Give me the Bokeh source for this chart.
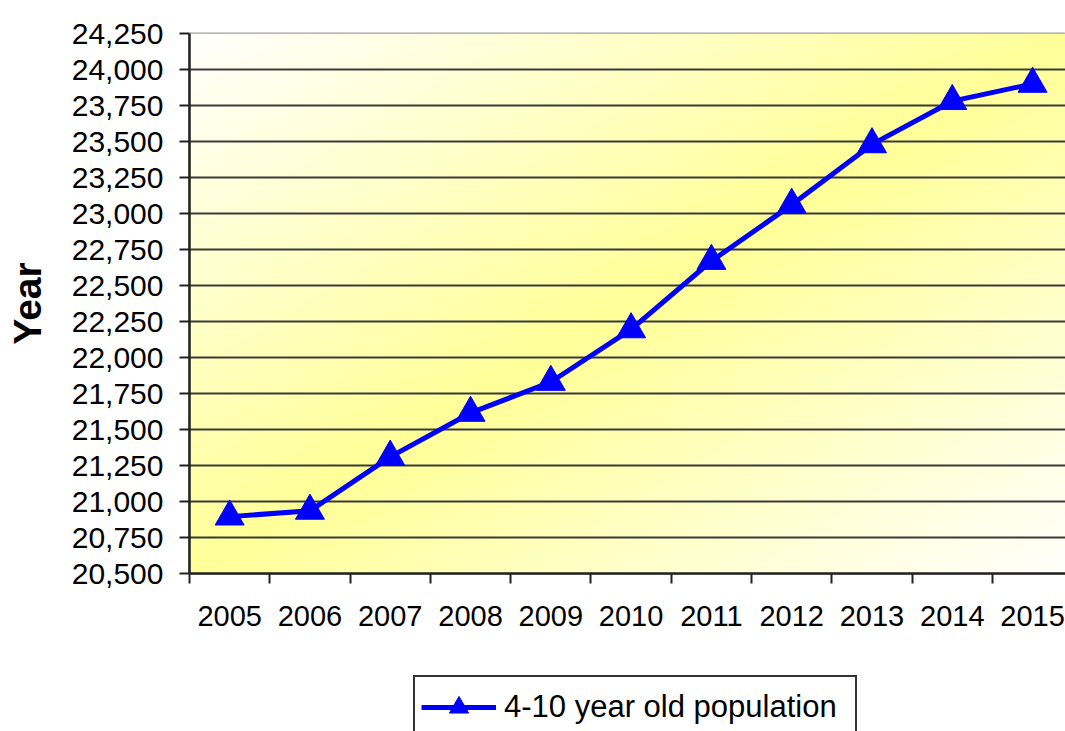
import numpy as np
from bokeh.plotting import figure
from bokeh.layouts import column
from bokeh.models import Range1d, FixedTicker, NumeralTickFormatter, Legend, LegendItem
from bokeh.embed import file_html
from bokeh.resources import INLINE

# ---- data ----
years = ["2005", "2006", "2007", "2008", "2009", "2010", "2011", "2012", "2013", "2014", "2015"]
population = [20895, 20935, 21310, 21615, 21830, 22195, 22670, 23060, 23480, 23780, 23900]
y_ticks = [20500, 20750, 21000, 21250, 21500, 21750, 22000, 22250, 22500, 22750,
           23000, 23250, 23500, 23750, 24000, 24250]
series_label = "4-10 year old population"
axis_title = "Year"

FONT = "Liberation Sans"
BLUE = "#0000FF"
n = len(years)
Y_MIN, Y_MAX = y_ticks[0], y_ticks[-1]
xs = [i + 0.5 for i in range(n)]
VISIBLE = 10.91  # part of the category axis that fits in the window

p = figure(width=1065, height=650, output_backend="svg", toolbar_location=None,
           x_range=Range1d(0, VISIBLE), y_range=Range1d(Y_MIN, Y_MAX),
           min_border_left=189, min_border_right=0, min_border_top=33,
           min_border_bottom=77)
p.background_fill_color = "white"
p.border_fill_color = "white"
p.outline_line_color = "#a0a0a0"
p.outline_line_width = 2

# ---- diagonal gradient background (white -> yellow -> white) ----
nx, ny = 300, 200
u = np.linspace(0, 1, nx)[None, :]
v = 1 - np.linspace(0, 1, ny)[:, None]
t = (u + v) / 2
d = np.abs(2 * t - 1)
blue = (153 + 100 * d).astype(np.uint8)
img = np.empty((ny, nx), dtype=np.uint32)
view = img.view(dtype=np.uint8).reshape((ny, nx, 4))
view[:, :, 0] = 255
view[:, :, 1] = 255
view[:, :, 2] = blue
view[:, :, 3] = 255
p.image_rgba(image=[img], x=0, y=Y_MIN, dw=n, dh=Y_MAX - Y_MIN, level="image")

# ---- grid ----
p.xgrid.visible = False
p.ygrid.ticker = FixedTicker(ticks=y_ticks[1:-1])
p.ygrid.grid_line_color = "#3a3a3a"
p.ygrid.grid_line_width = 2
p.ygrid.level = "underlay"

# ---- series ----
p.line(xs, population, line_color=BLUE, line_width=5)
p.scatter(xs, population, marker="triangle", size=29, fill_color=BLUE, line_color=BLUE)

# ---- y axis ----
ya = p.yaxis[0]
ya.ticker = FixedTicker(ticks=y_ticks)
ya.formatter = NumeralTickFormatter(format="0,0")
ya.major_tick_out = 10
ya.major_tick_in = 0
ya.minor_tick_out = 0
ya.minor_tick_in = 0
ya.major_tick_line_color = "#222222"
ya.major_tick_line_width = 2
ya.axis_line_color = "#222222"
ya.axis_line_width = 2.5
ya.major_label_text_font = FONT
ya.major_label_text_font_size = "30px"
ya.major_label_text_color = "black"
ya.major_label_standoff = 16
ya.axis_label = axis_title
ya.axis_label_text_font = FONT
ya.axis_label_text_font_style = "bold"
ya.axis_label_text_font_size = "39px"
ya.axis_label_text_color = "black"
ya.axis_label_standoff = 20

# ---- x axis ----
xa = p.xaxis[0]
xa.ticker = FixedTicker(ticks=xs, minor_ticks=list(range(n + 1)))
xa.major_label_overrides = {x: yr for x, yr in zip(xs, years)}
xa.major_tick_out = 0
xa.major_tick_in = 0
xa.minor_tick_out = 10
xa.minor_tick_in = 0
xa.minor_tick_line_color = "#222222"
xa.minor_tick_line_width = 2
xa.axis_line_color = "#222222"
xa.axis_line_width = 2.5
xa.major_label_text_font = FONT
xa.major_label_text_font_size = "29px"
xa.major_label_text_color = "black"
xa.major_label_standoff = 22

# ---- legend strip below the chart (its frame is aligned with the chart frame) ----
q = figure(width=1065, height=81, output_backend="svg", toolbar_location=None,
           x_axis_type=None, y_axis_type=None,
           x_range=Range1d(0, 1), y_range=Range1d(0, 1),
           min_border_left=0, min_border_right=0, min_border_top=0, min_border_bottom=0)
q.outline_line_color = None
q.background_fill_color = "white"
q.border_fill_color = "white"
q.xgrid.visible = False
q.ygrid.visible = False
# same series, drawn outside this strip's visible range; used only for the legend swatch
lg_line = q.line(xs, population, line_color=BLUE, line_width=5)
lg_mark = q.scatter(xs, population, marker="triangle", size=29,
                    fill_color=BLUE, line_color=BLUE)

legend = Legend(items=[LegendItem(label=series_label, renderers=[lg_line, lg_mark])],
                location=(224, -8), glyph_width=75, glyph_height=48,
                label_height=48, label_width=345, padding=6, label_standoff=8,
                margin=0, label_text_font=FONT, label_text_font_size="31px",
                label_text_color="black",
                border_line_color="#333333", border_line_width=2, border_line_alpha=1,
                background_fill_color="white", background_fill_alpha=1)
q.add_layout(legend)

layout = column(p, q, spacing=0)
open("out.html", "w").write(file_html(layout, INLINE))
